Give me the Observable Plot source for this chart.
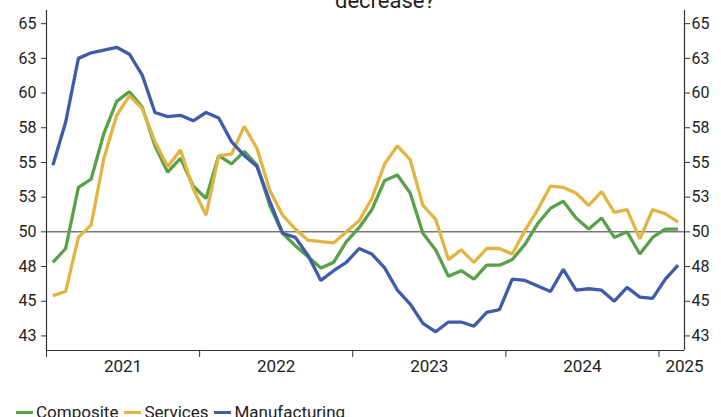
<!DOCTYPE html>
<html>
<head>
<meta charset="utf-8">
<script src="https://cdn.jsdelivr.net/npm/d3@7"></script>
<script src="https://cdn.jsdelivr.net/npm/@observablehq/plot@0.6"></script>
<style>
  html, body { margin: 0; padding: 0; background: #fff; overflow: hidden; }
  body { width: 721px; height: 417px; position: relative; font-family: Roboto, "Noto Sans", sans-serif; color: #222; }
  #title { position: absolute; left: 335px; top: -11px; font-size: 22px; line-height: 24px; white-space: nowrap; }
  #chart { position: absolute; left: 0; top: 0; }
  #legend { position: absolute; left: 16px; top: 402px; font-size: 17px; line-height: 20px; display: flex; gap: 6px; white-space: nowrap; }
  #legend span.item { display: inline-flex; align-items: center; }
  #legend span.sw { display: inline-block; width: 17px; height: 3px; margin-right: 3px; position: relative; top: 0px; }
</style>
</head>
<body>
<div id="title">decrease?</div>
<div id="chart"></div>
<div id="legend"></div>
<script>
// Monthly values, Jan 2021 – Feb 2025
const seriesNames = ["Composite", "Services", "Manufacturing"];
const seriesColors = ["#58a14a", "#e2b542", "#3f5ca9"];

const composite = [
  47.8, 48.8, 53.2, 53.8, 57.1, 59.4, 60.1, 59.0, 56.2, 54.3, 55.3, 53.3,
  52.4, 55.5, 54.9, 55.8, 54.8, 51.9, 49.9, 49.0, 48.2, 47.4, 47.8, 49.3,
  50.3, 51.6, 53.7, 54.1, 52.8, 49.9, 48.7, 46.8, 47.2, 46.6, 47.6, 47.6,
  48.0, 49.1, 50.6, 51.7, 52.2, 51.0, 50.2, 51.0, 49.6, 50.0, 48.4, 49.6,
  50.2, 50.2
];
const services = [
  45.4, 45.7, 49.6, 50.5, 55.3, 58.4, 59.8, 58.9, 56.5, 54.7, 55.9, 53.1,
  51.2, 55.5, 55.6, 57.6, 56.0, 53.0, 51.2, 50.2, 49.4, 49.3, 49.2, 50.0,
  50.8, 52.4, 54.9, 56.2, 55.2, 51.9, 50.9, 48.0, 48.7, 47.8, 48.8, 48.8,
  48.4, 50.1, 51.6, 53.3, 53.2, 52.8, 51.9, 52.9, 51.4, 51.6, 49.5, 51.6,
  51.3, 50.7
];
const manufacturing = [
  54.8, 57.9, 62.5, 62.9, 63.1, 63.3, 62.8, 61.3, 58.6, 58.3, 58.4, 58.0,
  58.6, 58.2, 56.5, 55.5, 54.7, 52.2, 49.9, 49.6, 48.3, 46.5, 47.2, 47.8,
  48.8, 48.4, 47.4, 45.8, 44.8, 43.4, 42.8, 43.5, 43.5, 43.2, 44.2, 44.4,
  46.6, 46.5, 46.1, 45.7, 47.3, 45.8, 45.9, 45.8, 45.0, 46.0, 45.3, 45.2,
  46.6, 47.6
];

const yearLabels = ["2021", "2022", "2023", "2024", "2025"];
const yearLabelPos = [6, 18, 30, 42, 50.0];   // in months from Jan 2021
const yearTicks = [0, 12, 24, 36, 48];
const yTicks = d3.range(42.5, 65.01, 2.5);

const allSeries = [composite, services, manufacturing];
const data = allSeries.flatMap((vals, s) =>
  vals.map((v, i) => ({ x: i + 0.5, y: v, series: seriesNames[s] }))
);

const yMin = 41.45, yMax = 65.95;
const axisColor = "#333";

const chart = Plot.plot({
  width: 721,
  height: 400,
  marginLeft: 46,
  marginRight: 37,
  marginTop: 10,
  marginBottom: 50,
  style: { fontFamily: "Roboto, 'Noto Sans', sans-serif", fontSize: "16px", color: "#222", background: "transparent" },
  x: { domain: [0, 50], axis: null },
  y: { domain: [yMin, yMax], axis: null },
  color: { domain: seriesNames, range: seriesColors },
  marks: [
    Plot.ruleY([50], { stroke: "#777", strokeWidth: 1.5 }),
    Plot.lineY(data, { x: "x", y: "y", z: "series", stroke: "series", strokeWidth: 3.3, strokeLinejoin: "miter", strokeLinecap: "butt" }),
    Plot.ruleX([0, 50], { stroke: axisColor, strokeWidth: 1.2 }),
    Plot.ruleY([yMin], { stroke: axisColor, strokeWidth: 1.2 }),
    Plot.axisY(yTicks, { anchor: "left", label: null, tickFormat: d => Math.round(d), tickSize: 5, tickPadding: 5, fontSize: 16, stroke: axisColor, fill: "#222" }),
    Plot.axisY(yTicks, { anchor: "right", label: null, tickFormat: d => Math.round(d), tickSize: 5, tickPadding: 2, fontSize: 16, stroke: axisColor, fill: "#222" }),
    Plot.axisX(yearTicks, { anchor: "bottom", label: null, tickFormat: () => "", tickSize: 7, stroke: axisColor }),
    Plot.text(yearLabels, { x: (d, i) => yearLabelPos[i], frameAnchor: "bottom", dy: 21, fontSize: 17, fill: "#222" })
  ]
});
document.getElementById("chart").appendChild(chart);

const legend = document.getElementById("legend");
seriesNames.forEach((name, i) => {
  const item = document.createElement("span");
  item.className = "item";
  const sw = document.createElement("span");
  sw.className = "sw";
  sw.style.background = seriesColors[i];
  item.appendChild(sw);
  item.appendChild(document.createTextNode(name));
  legend.appendChild(item);
});
</script>
</body>
</html>
